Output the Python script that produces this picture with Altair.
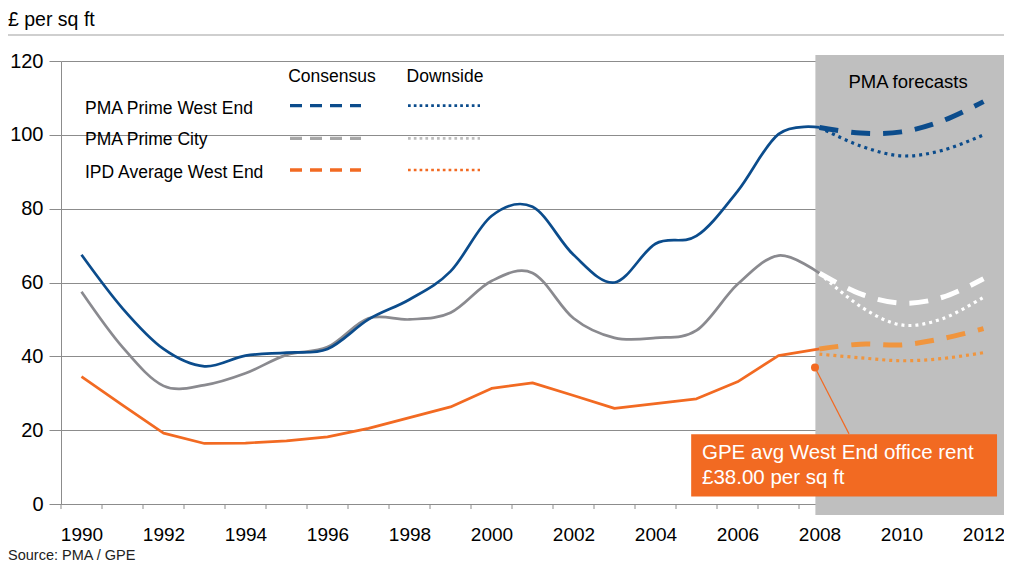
import altair as alt
import pandas as pd

# ---------------- data ----------------
hist_years = list(range(1990, 2009))
pma_west_end = [67.5, 53, 42, 37.3, 40.2, 41, 42, 50, 55.4, 63, 78, 80.5, 67.5, 60, 70.5, 72.6, 84.7, 100.2, 102]
pma_city = [57.5, 42.5, 32, 32.2, 35.4, 40.4, 42.5, 50.3, 50, 51.8, 60.4, 62.6, 50.3, 45, 45, 47, 59.5, 67.3, 62.5]
ipd_west_end = [34.5, 26.8, 19.2, 16.4, 16.5, 17.1, 18.2, 20.5, 23.4, 26.3, 31.3, 32.8, 29.4, 25.9, 27.2, 28.5, 33.1, 40.2, 42]

fc_years = [2008, 2009, 2010, 2011, 2012]
we_consensus = [102, 100.5, 100.8, 103.8, 109]
we_downside = [102, 97, 94.3, 95.8, 100]
city_consensus = [62.5, 56.9, 54.4, 56, 61]
city_downside = [62.5, 53.5, 48.5, 50.2, 56]
ipd_consensus = [42, 43.3, 43.1, 44.8, 47.5]
ipd_downside = [40.6, 39.6, 38.8, 39.4, 41]

series_names = ["PMA Prime West End", "PMA Prime City", "IPD Average West End"]
scenario_names = ["Consensus", "Downside"]
x_labels = list(range(1990, 2013, 2))
y_ticks = [0, 20, 40, 60, 80, 100, 120]
x_tick_edges = [y - 0.5 for y in range(1990, 2014)]

forecast_span = [2007.9, 2012.5]          # shaded "PMA forecasts" period
gpe_point = [2007.89, 37]                 # GPE avg rent marker
gpe_leader_end = [2008.72, 19.0]
gpe_box = [2004.87, 2012.33, 18.9, 2.0]

# ---------------- styling ----------------
W, H = 943, 443
FONT = "Liberation Sans"
BLUE = "#0B4C8C"
GREY = "#8A8A8F"
GREY_LEG = "#A6A6A6"
GREY_LEG_DOT = "#BDBDBD"
ORANGE = "#F26A22"
ORANGE_FC = "#F0953E"
SHADE = "#BFBFBF"
GRID = "#8C8C8C"

xscale = alt.Scale(domain=[1989.5, 2012.5], nice=False, zero=False)
yscale = alt.Scale(domain=[0, 120], nice=False, zero=True)
xaxis = alt.Axis(values=x_labels, format="d", ticks=False, tickSize=0, labelPadding=21,
                 labelFontSize=19, labelFont=FONT, labelColor="#000000", domainColor=GRID,
                 domainWidth=1, grid=False, labelFlush=False, labelOverlap=False, title=None)
yaxis = alt.Axis(values=y_ticks, format="d", grid=True, gridColor=GRID, gridWidth=1,
                 tickSize=12, tickColor=GRID, domainColor=GRID, labelPadding=6,
                 labelFontSize=20, labelFont=FONT, labelColor="#000000",
                 labelFlush=False, labelOverlap=False, title=None)


def X(field="year"):
    return alt.X(f"{field}:Q", scale=xscale, axis=xaxis, title=None)


def Y(field="value"):
    return alt.Y(f"{field}:Q", scale=yscale, axis=yaxis, title=None)


dummy = pd.DataFrame({"k": [0]})


def ptext(s, x, y, size, align="left", color="#000000", baseline="middle"):
    return alt.Chart(dummy).mark_text(text=s, align=align, baseline=baseline, fontSize=size,
                                      font=FONT, color=color).encode(x=alt.value(x), y=alt.value(y))


def prule(x1, x2, y, color, width, dash=None):
    kw = dict(color=color, strokeWidth=width)
    if dash:
        kw["strokeDash"] = dash
    return alt.Chart(dummy).mark_rule(**kw).encode(x=alt.value(x1), x2=alt.value(x2), y=alt.value(y))


def line_layer(years, values, color, interp, width, dash=None):
    df = pd.DataFrame({"year": years, "value": values})
    kw = dict(color=color, strokeWidth=width, interpolate=interp, strokeJoin="round")
    if dash:
        kw["strokeDash"] = dash
    return alt.Chart(df).mark_line(**kw).encode(x=X(), y=Y())


layers = []

# x-axis tick marks at year boundaries
ticks_df = pd.DataFrame({"year": x_tick_edges})
layers.append(alt.Chart(ticks_df).mark_rule(color=GRID, strokeWidth=1).encode(
    x=X(), y=alt.value(H), y2=alt.value(H + 5)))

# shaded forecast region
shade_df = pd.DataFrame({"year": [forecast_span[0]], "year2": [forecast_span[1]],
                         "value": [-3.0], "value2": [121.6]})
layers.append(alt.Chart(shade_df).mark_rect(color=SHADE).encode(
    x=X(), x2=alt.X2("year2"), y=Y(), y2=alt.Y2("value2")))
layers.append(ptext("PMA forecasts", 847, 21, 18.5, align="center"))

# historical lines
layers.append(line_layer(hist_years, ipd_west_end, ORANGE, "linear", 2.7))
layers.append(line_layer(hist_years, pma_city, GREY, "cardinal", 2.7))
layers.append(line_layer(hist_years, pma_west_end, BLUE, "cardinal", 2.7))

# forecasts
CONS_DASH = [19, 13]
DOWN_DASH = [3, 4]
layers.append(line_layer(fc_years, ipd_downside, ORANGE_FC, "cardinal", 3.2, DOWN_DASH))
layers.append(line_layer(fc_years, ipd_consensus, ORANGE_FC, "cardinal", 5, CONS_DASH))
layers.append(line_layer(fc_years, city_downside, "#FFFFFF", "cardinal", 3.2, DOWN_DASH))
layers.append(line_layer(fc_years, city_consensus, "#FFFFFF", "cardinal", 5, CONS_DASH))
layers.append(line_layer(fc_years, we_downside, BLUE, "cardinal", 3.2, DOWN_DASH))
layers.append(line_layer(fc_years, we_consensus, BLUE, "cardinal", 5, CONS_DASH))

# custom legend
layers.append(ptext(scenario_names[0], 271, 15.5, 17.5, align="center"))
layers.append(ptext(scenario_names[1], 384, 15.5, 17.5, align="center"))
row_y = [47.5, 79, 111.5]
sample_y = [44.7, 77.3, 109]
dash_cols = [BLUE, GREY_LEG, ORANGE]
dot_cols = [BLUE, GREY_LEG_DOT, ORANGE]
for name, ty, sy, dc, oc in zip(series_names, row_y, sample_y, dash_cols, dot_cols):
    layers.append(ptext(name, 24, ty, 17.5))
    layers.append(prule(229, 300, sy, dc, 3.3, [12, 8]))
    layers.append(prule(347, 419, sy, oc, 2.7, [2.7, 3.1]))

# GPE annotation
leader_df = pd.DataFrame({"year": [gpe_point[0]], "year2": [gpe_leader_end[0]],
                          "value": [gpe_point[1]], "value2": [gpe_leader_end[1]]})
layers.append(alt.Chart(leader_df).mark_rule(color=ORANGE, strokeWidth=1.2).encode(
    x=X(), x2=alt.X2("year2"), y=Y(), y2=alt.Y2("value2")))
dot_df = pd.DataFrame({"year": [gpe_point[0]], "value": [gpe_point[1]]})
layers.append(alt.Chart(dot_df).mark_circle(color=ORANGE, size=64, opacity=1).encode(x=X(), y=Y()))
box_df = pd.DataFrame({"year": [gpe_box[0]], "year2": [gpe_box[1]],
                       "value": [gpe_box[2]], "value2": [gpe_box[3]]})
layers.append(alt.Chart(box_df).mark_rect(color=ORANGE).encode(
    x=X(), x2=alt.X2("year2"), y=Y(), y2=alt.Y2("value2")))
layers.append(ptext("GPE avg West End office rent", 641, 391.5, 20.5, color="#FFFFFF"))
layers.append(ptext("£38.00 per sq ft", 641, 416.5, 20.5, color="#FFFFFF"))

# title, separator, source
layers.append(ptext("£ per sq ft", -53, -35.5, 19.5, baseline="alphabetic"))
layers.append(prule(-53, 944, -26, "#BFBFBF", 1.5))
layers.append(ptext("Source:  PMA / GPE", -53, 494.5, 14.5, color="#222222"))

chart = alt.layer(*layers).properties(
    width=W, height=H,
    autosize=alt.AutoSizeParams(type="none"),
    padding={"left": 53, "top": 53, "right": 0, "bottom": 60},
).configure(font=FONT, background="white").configure_view(stroke=None)

chart.save("out.html", embed_options={"renderer": "svg", "actions": False})
